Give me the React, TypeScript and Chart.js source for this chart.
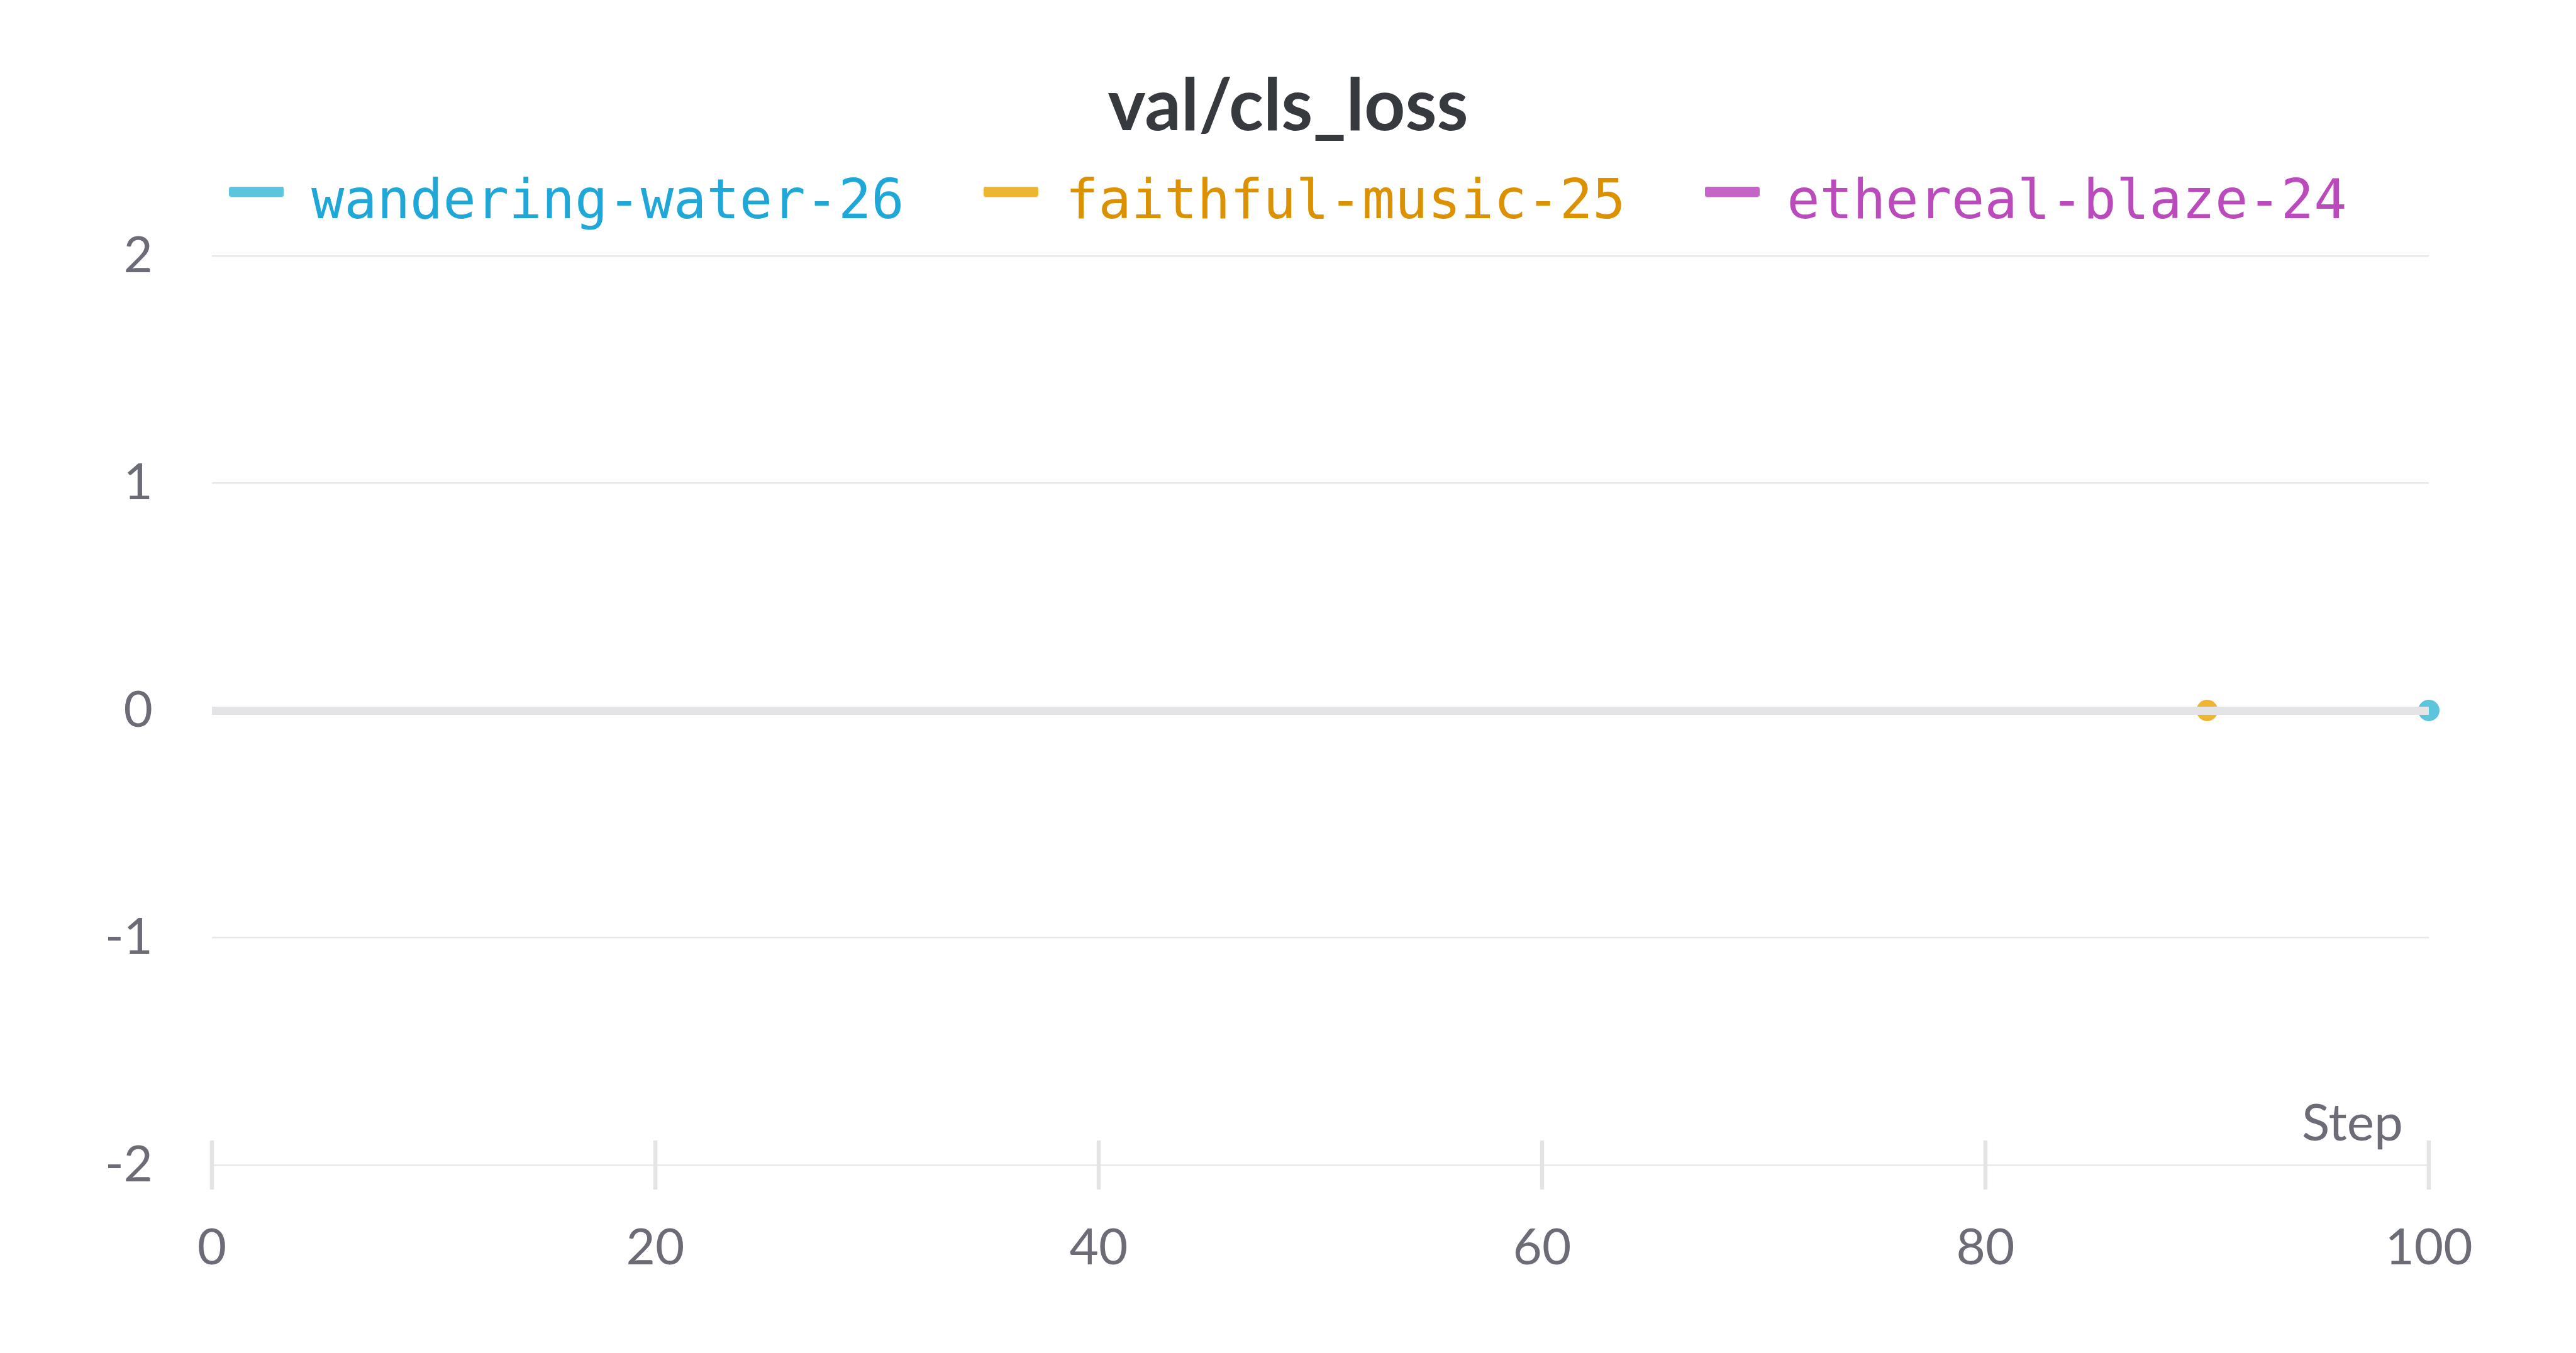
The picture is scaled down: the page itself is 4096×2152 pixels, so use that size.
import React, { useEffect, useRef } from "react";
import { Chart, registerables } from "chart.js";

Chart.register(...registerables);

// ---- data ----
const chartTitle = "val/cls_loss";
const xAxisTitle = "Step";
const seriesNames = ["wandering-water-26", "faithful-music-25", "ethereal-blaze-24"];
const wanderingSteps = [100];
const wanderingValues = [0];
const faithfulSteps = [90];
const faithfulValues = [0];
const etherealSteps: number[] = [];
const etherealValues: number[] = [];
const xTickValues = [0, 20, 40, 60, 80, 100];
const yTickValues = [-2, -1, 0, 1, 2];

// ---- styles ----
const seriesColors = ["#5cc5dc", "#edb632", "#c565c7"];
const legendTextColors = ["#1fa8d7", "#dc9100", "#bb4bbd"];
const tickColor = "#6c6c77";
const gridColor = "#e8e8eb";
const zeroColor = "#e4e4e7";

const toPoints = (xs: number[], ys: number[]) => xs.map((x, i) => ({ x, y: ys[i] }));

// legend swatch: a short rounded bar, sitting a little above the text middle
const makeSwatch = (color: string) => {
  const c = document.createElement("canvas");
  c.width = 87;
  c.height = 55;
  const g = c.getContext("2d")!;
  g.fillStyle = color;
  g.beginPath();
  const r = 4, w = 87, h = 17;
  g.moveTo(r, 0);
  g.lineTo(w - r, 0);
  g.quadraticCurveTo(w, 0, w, r);
  g.lineTo(w, h - r);
  g.quadraticCurveTo(w, h, w - r, h);
  g.lineTo(r, h);
  g.quadraticCurveTo(0, h, 0, h - r);
  g.lineTo(0, r);
  g.quadraticCurveTo(0, 0, r, 0);
  g.fill();
  return c;
};

const axisExtras = {
  id: "axisExtras",
  afterDraw(chart: any) {
    const { ctx } = chart;
    const xs = chart.scales.x;
    const ys = chart.scales.y;
    const axisY = ys.getPixelForValue(yTickValues[0]);
    ctx.save();
    ctx.strokeStyle = zeroColor;
    ctx.lineWidth = 6.5;
    xs.ticks.forEach((_t: any, i: number) => {
      const px = xs.getPixelForTick(i);
      ctx.beginPath();
      ctx.moveTo(px, axisY - 39);
      ctx.lineTo(px, axisY + 39);
      ctx.stroke();
    });
    ctx.font = "82px Lato";
    ctx.fillStyle = tickColor;
    ctx.textAlign = "right";
    ctx.textBaseline = "alphabetic";
    ctx.fillText(xAxisTitle, xs.right - 41, axisY - 39);
    ctx.restore();
  },
};

export default function App() {
  const canvasRef = useRef<HTMLCanvasElement | null>(null);

  useEffect(() => {
    document.body.style.margin = "0";
    const canvas = canvasRef.current;
    if (!canvas) return;
    const swatches = seriesColors.map(makeSwatch);
    const datasetsData = [
      toPoints(wanderingSteps, wanderingValues),
      toPoints(faithfulSteps, faithfulValues),
      toPoints(etherealSteps, etherealValues),
    ];
    const chart = new Chart(canvas, {
      type: "line",
      data: {
        datasets: seriesNames.map((name, i) => ({
          label: name,
          data: datasetsData[i],
          borderColor: seriesColors[i],
          backgroundColor: seriesColors[i],
          borderWidth: 4,
          pointRadius: 17,
          pointBorderWidth: 0,
          pointBackgroundColor: seriesColors[i],
          fill: false,
          clip: false,
        })),
      },
      options: {
        animation: false,
        responsive: false,
        devicePixelRatio: 1,
        layout: { padding: { left: 100, right: 100, top: 0, bottom: 0 } },
        scales: {
          x: {
            type: "linear",
            min: xTickValues[0],
            max: xTickValues[xTickValues.length - 1],
            afterBuildTicks: (scale: any) => {
              scale.ticks = xTickValues.map((v) => ({ value: v }));
            },
            grid: { display: false, drawTicks: false },
            border: { display: false },
            ticks: {
              color: tickColor,
              font: { family: "Lato", size: 80 },
              padding: 84,
              maxRotation: 0,
            },
            afterFit: (scale: any) => {
              scale.height = 299;
            },
          },
          y: {
            type: "linear",
            position: "left",
            min: yTickValues[0],
            max: yTickValues[yTickValues.length - 1],
            afterBuildTicks: (scale: any) => {
              scale.ticks = yTickValues.map((v) => ({ value: v }));
            },
            grid: {
              z: 1,
              drawTicks: false,
              color: (c: any) => (c.tick && c.tick.value === 0 ? zeroColor : gridColor),
              lineWidth: (c: any) => (c.tick && c.tick.value === 0 ? 13 : 2.5),
            },
            border: { display: false },
            ticks: {
              color: tickColor,
              font: { family: "Lato", size: 80 },
              padding: 94,
            },
            afterFit: (scale: any) => {
              scale.width = 237;
            },
          },
          yRightSpace: {
            type: "linear",
            position: "right",
            display: true,
            grid: { display: false, drawTicks: false },
            border: { display: false },
            ticks: { display: false },
            afterFit: (scale: any) => {
              scale.width = 134;
            },
          },
        },
        plugins: {
          title: {
            display: true,
            text: chartTitle,
            color: "#363a3e",
            font: { family: "Lato", size: 114, weight: "bold", lineHeight: 1.2 },
            padding: { top: 101.6, bottom: -83.9 },
          },
          subtitle: {
            display: true,
            text: "",
            weight: 500,
            font: { size: 1, lineHeight: 1 },
            padding: { top: 28.5, bottom: 0 },
          } as any,
          legend: {
            display: true,
            position: "top",
            align: "center",
            labels: {
              usePointStyle: true,
              pointStyleWidth: 87,
              boxHeight: 17,
              padding: 126,
              font: { family: "DejaVu Sans Mono", size: 87 },
              generateLabels: (ch: any) =>
                ch.data.datasets.map((ds: any, i: number) => ({
                  text: ds.label,
                  fillStyle: seriesColors[i],
                  strokeStyle: seriesColors[i],
                  lineWidth: 0,
                  pointStyle: swatches[i],
                  fontColor: legendTextColors[i],
                  hidden: false,
                  datasetIndex: i,
                })),
            },
          },
          tooltip: { enabled: false },
        },
      } as any,
      plugins: [axisExtras],
    });
    if ((document as any).fonts && (document as any).fonts.ready) {
      (document as any).fonts.ready.then(() => {
        try { chart.update(); } catch (e) {}
      });
    }
    return () => chart.destroy();
  }, []);

  return (
    <div style={{ width: 4096, height: 2152, background: "#ffffff" }}>
      <canvas ref={canvasRef} width={4096} height={2152} style={{ display: "block" }} />
    </div>
  );
}
